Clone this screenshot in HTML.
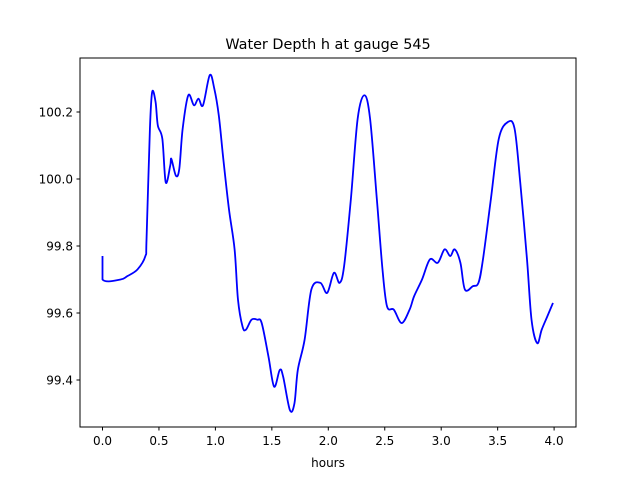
<!DOCTYPE html>
<html><head><meta charset="utf-8"><style>
body{margin:0;background:#fff;font-family:"DejaVu Sans","Liberation Sans",sans-serif;}
</style></head><body>
<svg id="chart" width="640" height="480" viewBox="0 0 640 480" xmlns="http://www.w3.org/2000/svg">
<rect width="640" height="480" fill="#fff"/>
<text x="328" y="49" text-anchor="middle" font-size="14.4" fill="#000">Water Depth h at gauge 545</text>
<g id="ticks"></g>
<path id="line" fill="none" stroke="#0000ff" stroke-width="1.8" stroke-linejoin="round"/>
<rect x="80" y="58" width="496" height="369" fill="none" stroke="#000" stroke-width="1"/>
<text x="328" y="467" text-anchor="middle" font-size="12" fill="#000">hours</text>
</svg>
<script>
const hours=[0,0,0.16,0.22,0.31,0.38,0.39,0.42,0.44,0.47,0.49,0.53,0.56,0.6,0.61,0.65,0.68,0.71,0.76,0.81,0.85,0.89,0.95,0.99,1.03,1.07,1.12,1.17,1.2,1.24,1.27,1.32,1.37,1.41,1.47,1.52,1.57,1.6,1.66,1.7,1.73,1.79,1.85,1.93,1.99,2.05,2.1,2.14,2.2,2.26,2.32,2.37,2.43,2.48,2.52,2.58,2.65,2.72,2.76,2.83,2.9,2.97,3.03,3.08,3.12,3.17,3.21,3.28,3.33,3.37,3.44,3.51,3.59,3.65,3.7,3.76,3.8,3.85,3.89,3.94,3.99];
const depth=[99.77,99.70,99.70,99.71,99.73,99.77,99.82,100.15,100.26,100.23,100.16,100.12,99.99,100.04,100.06,100.01,100.03,100.15,100.25,100.22,100.24,100.22,100.31,100.27,100.19,100.06,99.91,99.79,99.64,99.56,99.55,99.58,99.58,99.57,99.47,99.38,99.43,99.41,99.31,99.33,99.43,99.52,99.67,99.69,99.66,99.72,99.69,99.74,99.94,100.18,100.25,100.18,99.94,99.73,99.62,99.61,99.57,99.61,99.65,99.70,99.76,99.75,99.79,99.77,99.79,99.75,99.67,99.68,99.69,99.76,99.94,100.12,100.17,100.15,99.99,99.76,99.58,99.51,99.55,99.59,99.63];
const xTicks=[0,0.5,1,1.5,2,2.5,3,3.5,4];
const xTickLabels=["0.0","0.5","1.0","1.5","2.0","2.5","3.0","3.5","4.0"];
const yTicks=[99.4,99.6,99.8,100.0,100.2];
const yTickLabels=["99.4","99.6","99.8","100.0","100.2"];
const X=v=>102.5+(v-0)*112.9;
const Y=v=>380-(v-99.4)*335;
const NS="http://www.w3.org/2000/svg";
const g=document.getElementById('ticks');
function mk(t,a){const e=document.createElementNS(NS,t);for(const k in a)e.setAttribute(k,a[k]);g.appendChild(e);return e;}
xTicks.forEach((v,i)=>{
  const l=mk('line',{x1:X(v),x2:X(v),y1:427,y2:430.5,stroke:'#000'});
  
  
  const t=mk('text',{x:X(v),y:445,'text-anchor':'middle','font-size':'12'});
  t.textContent=xTickLabels[i];
  
  
});
yTicks.forEach((v,i)=>{
  const l=mk('line',{x1:76.5,x2:80,y1:Y(v),y2:Y(v),stroke:'#000'});
  
  
  const t=mk('text',{x:73,y:Y(v)+4.5,'text-anchor':'end','font-size':'12'});
  t.textContent=yTickLabels[i];
  
  
});
const pts=hours.map((h,i)=>[X(h),Y(depth[i])]);
let d='M'+pts[0][0]+','+pts[0][1];
for(let i=0;i<pts.length-1;i++){
  const p0=pts[Math.max(0,i-1)],p1=pts[i],p2=pts[i+1],p3=pts[Math.min(pts.length-1,i+2)];
  if(i===0){d+=' L'+p2[0]+','+p2[1];continue;}
  const c1=[p1[0]+(p2[0]-p0[0])/6,p1[1]+(p2[1]-p0[1])/6];
  const c2=[p2[0]-(p3[0]-p1[0])/6,p2[1]-(p3[1]-p1[1])/6];
  d+=' C'+c1+' '+c2+' '+p2;
}
document.getElementById('line').setAttribute('d',d);
</script>
</body></html>
